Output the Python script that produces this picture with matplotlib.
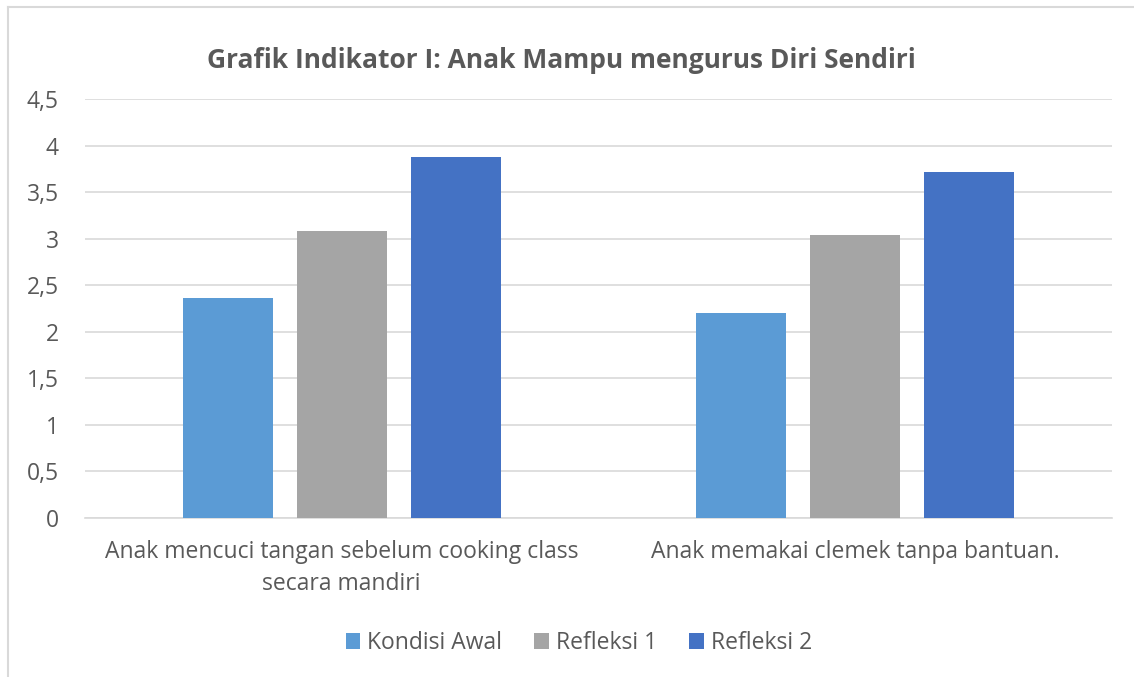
import matplotlib
matplotlib.use("Agg")
import matplotlib.pyplot as plt
from matplotlib.lines import Line2D
from matplotlib.patches import Patch
import numpy as np

categories = ["Anak mencuci tangan sebelum cooking class\nsecara mandiri",
              "Anak memakai clemek tanpa bantuan."]
series_names = ["Kondisi Awal", "Refleksi 1", "Refleksi 2"]
kondisi_awal = [2.36, 2.20]
refleksi_1 = [3.08, 3.04]
refleksi_2 = [3.88, 3.72]
yticks = [0, 0.5, 1, 1.5, 2, 2.5, 3, 3.5, 4, 4.5]
ytick_labels = ["0", "0,5", "1", "1,5", "2", "2,5", "3", "3,5", "4", "4,5"]
title = "Grafik Indikator I: Anak Mampu mengurus Diri Sendiri"

colors = ["#5B9BD5", "#A5A5A5", "#4472C4"]
text_color = "#595959"
grid_color = "#D9D9D9"

plt.rcParams['font.family'] = ['Open Sans', 'DejaVu Sans']

W, H = 1134, 677
fig = plt.figure(figsize=(W / 100, H / 100), dpi=100)
ax = fig.add_axes([85 / W, 1 - 518 / H, (1112 - 85) / W, (518 - 99) / H])

x = np.arange(len(categories))
bw = 0.175
step = 0.222
for i, (vals, name) in enumerate(zip([kondisi_awal, refleksi_1, refleksi_2], series_names)):
    ax.bar(x + (i - 1) * step, vals, width=bw, color=colors[i], label=name, zorder=3)

ax.set_xlim(-0.5, 1.5)
ax.set_ylim(0, 4.5)
ax.set_yticks(yticks)
ax.set_yticklabels(ytick_labels)
ax.set_xticks(x)
ax.set_xticklabels(categories, linespacing=1.45)
ax.tick_params(axis='both', length=0, labelsize=16.5, colors=text_color)
ax.tick_params(axis='x', pad=16)
ax.tick_params(axis='y', pad=19)
ax.grid(axis='y', color=grid_color, linewidth=1.2, zorder=0)
for s in ["top", "right", "left"]:
    ax.spines[s].set_visible(False)
ax.spines["bottom"].set_color(grid_color)
ax.spines["bottom"].set_linewidth(1.2)

fig.text(0.5 * (205 + 918) / W, 1 - 60 / H, title, ha='center', va='center',
         fontsize=19, fontweight='bold', color=text_color)

handles = [Patch(facecolor=c, edgecolor='none') for c in colors]
leg = fig.legend(handles, series_names, loc='center', bbox_to_anchor=(579 / W, 1 - 643 / H),
                 ncol=3, frameon=False, fontsize=16.5, handlelength=0.65, handleheight=0.65,
                 handletextpad=0.3, columnspacing=1.4)
for t in leg.get_texts():
    t.set_color(text_color)

fig.add_artist(Line2D([7.5 / W, 7.5 / W], [0, 1 - 6.5 / H], color=grid_color, linewidth=1.5,
                      transform=fig.transFigure))
fig.add_artist(Line2D([7.5 / W, 1], [1 - 6.5 / H, 1 - 6.5 / H], color=grid_color, linewidth=1.5,
                      transform=fig.transFigure))

fig.savefig("out.png", dpi=100, facecolor='white')
